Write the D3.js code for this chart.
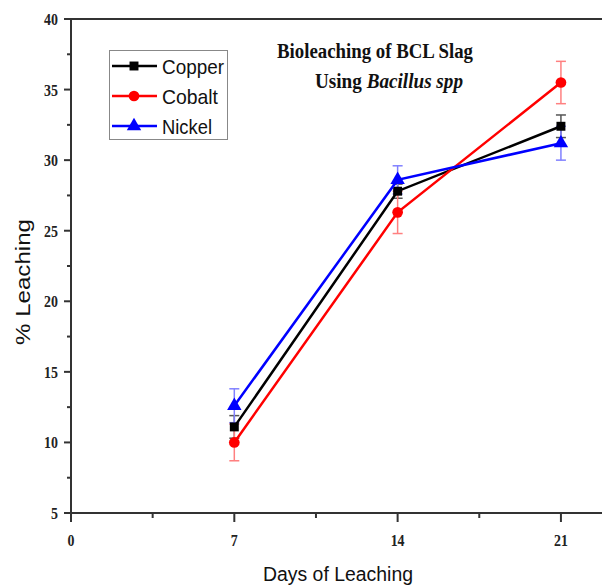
<!DOCTYPE html>
<html>
<head>
<meta charset="utf-8">
<script src="https://cdn.jsdelivr.net/npm/d3@7"></script>
<style>
  body { margin: 0; background: #fff; }
  svg { display: block; }
</style>
</head>
<body>
<div id="chart"></div>
<script>
// data
const days = [7, 14, 21];
const copper = [11.1, 27.8, 32.4];
const copperErr = [0.8, 0.5, 0.8];
const cobalt = [10.0, 26.3, 35.5];
const cobaltErr = [1.3, 1.5, 1.5];
const nickel = [12.6, 28.6, 31.2];
const nickelErr = [1.2, 1.0, 1.2];
const xTicks = [0, 7, 14, 21];
const yTicks = [5, 10, 15, 20, 25, 30, 35, 40];

const width = 602, height = 587;
const margin = {top: 19, left: 71, bottom: 74};

const series = [
  {name: "Copper", values: copper, err: copperErr, color: "#000", errColor: "#555", shape: d3.symbolSquare, size: 80, tl: 62},
  {name: "Cobalt", values: cobalt, err: cobaltErr, color: "#ff0000", errColor: "#ff8080", shape: d3.symbolCircle, size: 90, tl: 56},
  {name: "Nickel", values: nickel, err: nickelErr, color: "#0000ff", errColor: "#8080ff", shape: d3.symbolTriangle, size: 90, tl: 50}
];

const svg = d3.select("#chart").append("svg")
  .attr("width", width)
  .attr("height", height);

const x = d3.scaleLinear().domain([0, 24]).range([margin.left, margin.left + 24 * 23.33]);
const y = d3.scaleLinear().domain([5, 40]).range([height - margin.bottom, margin.top]);

const axisColor = "#333";
const serif = "Liberation Serif, Times New Roman, serif";
const sans = "Liberation Sans, Arial, sans-serif";

// frame: bottom and top lines, left axis
svg.append("line")
  .attr("x1", x(0)).attr("x2", width)
  .attr("y1", y(5)).attr("y2", y(5))
  .attr("stroke", axisColor).attr("stroke-width", 2);
svg.append("line")
  .attr("x1", x(0)).attr("x2", width)
  .attr("y1", y(40)).attr("y2", y(40))
  .attr("stroke", axisColor).attr("stroke-width", 2);
svg.append("line")
  .attr("x1", x(0)).attr("x2", x(0))
  .attr("y1", y(40) - 1).attr("y2", y(5) + 1)
  .attr("stroke", axisColor).attr("stroke-width", 2);

// y ticks (major + minor)
const yMinor = d3.range(7.5, 40, 5);
svg.append("g").selectAll("line").data(yTicks).enter().append("line")
  .attr("x1", x(0) - 7).attr("x2", x(0))
  .attr("y1", d => y(d)).attr("y2", d => y(d))
  .attr("stroke", axisColor).attr("stroke-width", 2);
svg.append("g").selectAll("line").data(yMinor).enter().append("line")
  .attr("x1", x(0) - 4).attr("x2", x(0))
  .attr("y1", d => y(d)).attr("y2", d => y(d))
  .attr("stroke", axisColor).attr("stroke-width", 2);
svg.append("g").selectAll("text").data(yTicks).enter().append("text")
  .attr("transform", d => `translate(${x(0) - 13},${y(d) + 6}) scale(0.82,1)`)
  .attr("text-anchor", "end")
  .attr("font-family", serif)
  .attr("font-weight", "bold")
  .attr("font-size", 17)
  .attr("fill", "#222")
  .text(d => d);

// x ticks (major + minor)
const xMinor = [3.5, 10.5, 17.5];
svg.append("g").selectAll("line").data(xTicks).enter().append("line")
  .attr("x1", d => x(d)).attr("x2", d => x(d))
  .attr("y1", y(5)).attr("y2", y(5) + 9)
  .attr("stroke", axisColor).attr("stroke-width", 2);
svg.append("g").selectAll("line").data(xMinor).enter().append("line")
  .attr("x1", d => x(d)).attr("x2", d => x(d))
  .attr("y1", y(5)).attr("y2", y(5) + 5)
  .attr("stroke", axisColor).attr("stroke-width", 2);
svg.append("g").selectAll("text").data(xTicks).enter().append("text")
  .attr("transform", d => `translate(${x(d)},${y(5) + 33}) scale(0.82,1)`)
  .attr("text-anchor", "middle")
  .attr("font-family", serif)
  .attr("font-weight", "bold")
  .attr("font-size", 17)
  .attr("fill", "#222")
  .text(d => d);

// axis titles
svg.append("text")
  .attr("x", 338).attr("y", 581)
  .attr("text-anchor", "middle")
  .attr("font-family", sans)
  .attr("font-size", 20)
  .attr("textLength", 150).attr("lengthAdjust", "spacingAndGlyphs")
  .attr("fill", "#111")
  .text("Days of Leaching");
svg.append("text")
  .attr("transform", "translate(30,282) rotate(-90)")
  .attr("text-anchor", "middle")
  .attr("font-family", sans)
  .attr("font-size", 21)
  .attr("textLength", 126).attr("lengthAdjust", "spacingAndGlyphs")
  .attr("fill", "#111")
  .text("% Leaching");

// chart title
svg.append("text")
  .attr("x", 277).attr("y", 58)
  .attr("font-family", serif)
  .attr("font-weight", "bold")
  .attr("font-size", 20.5)
  .attr("textLength", 196).attr("lengthAdjust", "spacingAndGlyphs")
  .attr("fill", "#111")
  .text("Bioleaching of BCL Slag");
const t2 = svg.append("text")
  .attr("x", 315).attr("y", 88)
  .attr("font-family", serif)
  .attr("font-weight", "bold")
  .attr("font-size", 20.5)
  .attr("textLength", 148).attr("lengthAdjust", "spacingAndGlyphs")
  .attr("fill", "#111");
t2.append("tspan").text("Using ");
t2.append("tspan").attr("font-style", "italic").text("Bacillus spp");

// error bars
series.forEach(s => {
  const g = svg.append("g");
  s.values.forEach((v, i) => {
    const cx = x(days[i]);
    g.append("line")
      .attr("x1", cx).attr("x2", cx)
      .attr("y1", y(v - s.err[i])).attr("y2", y(v + s.err[i]))
      .attr("stroke", s.errColor).attr("stroke-width", 1.5);
    [v - s.err[i], v + s.err[i]].forEach(e => {
      g.append("line")
        .attr("x1", cx - 5).attr("x2", cx + 5)
        .attr("y1", y(e)).attr("y2", y(e))
        .attr("stroke", s.errColor).attr("stroke-width", 1.5);
    });
  });
});

// lines and markers
const line = d3.line().x((d, i) => x(days[i])).y(d => y(d));
series.forEach(s => {
  svg.append("path")
    .datum(s.values)
    .attr("d", line)
    .attr("fill", "none")
    .attr("stroke", s.color)
    .attr("stroke-width", 2.5);
  svg.append("g").selectAll("path").data(s.values).enter().append("path")
    .attr("d", d3.symbol().type(s.shape).size(s.size))
    .attr("transform", (d, i) => `translate(${x(days[i])},${y(d)})`)
    .attr("fill", s.color);
});

// legend
const lg = svg.append("g");
lg.append("rect")
  .attr("x", 109.5).attr("y", 50.5)
  .attr("width", 118).attr("height", 89)
  .attr("fill", "#fff")
  .attr("stroke", "#888").attr("stroke-width", 1);
series.forEach((s, i) => {
  const ly = 66 + i * 30;
  lg.append("line")
    .attr("x1", 112).attr("x2", 157)
    .attr("y1", ly).attr("y2", ly)
    .attr("stroke", s.color).attr("stroke-width", 2.5);
  lg.append("path")
    .attr("d", d3.symbol().type(s.shape).size(s.size))
    .attr("transform", `translate(134,${ly})`)
    .attr("fill", s.color);
  lg.append("text")
    .attr("x", 162).attr("y", ly + 8)
    .attr("font-family", sans)
    .attr("font-size", 21)
    .attr("textLength", s.tl).attr("lengthAdjust", "spacingAndGlyphs")
    .attr("fill", "#111")
    .text(s.name);
});
</script>
</body>
</html>
